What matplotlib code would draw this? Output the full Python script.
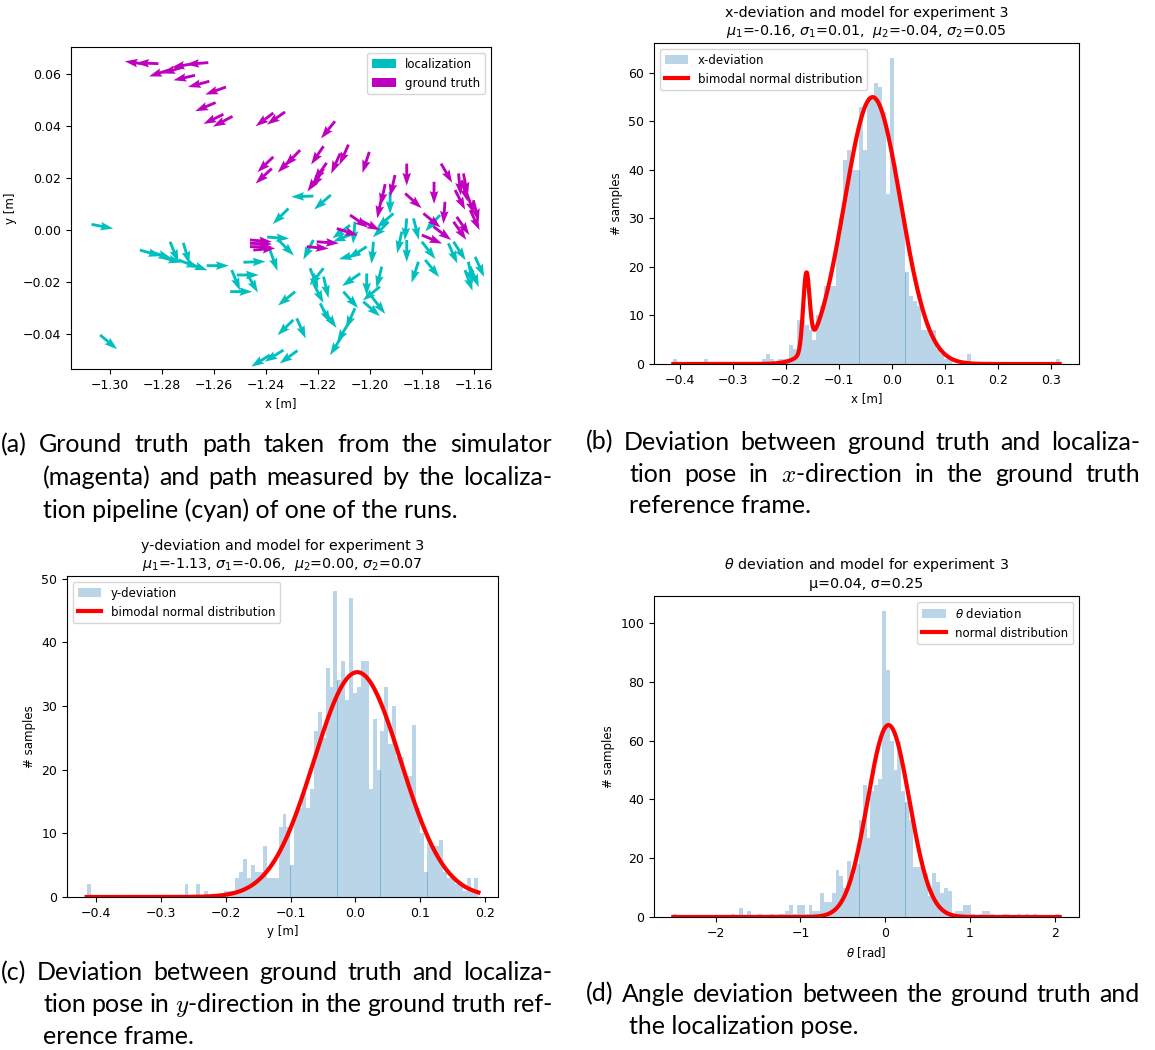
import numpy as np
import matplotlib
matplotlib.use("Agg")
import matplotlib.pyplot as plt

# ---- path arrows: tail position [m] and heading [deg] ----
gt_x = [-1.2814, -1.2859, -1.2622, -1.2679, -1.2718, -1.2769, -1.2673, -1.2618, -1.2554, -1.2594,
        -1.2564, -1.2529, -1.2372, -1.2327, -1.2135, -1.2372, -1.2378, -1.2269, -1.2295, -1.2179,
        -1.2167, -1.2192, -1.2179, -1.2083, -1.2115, -1.2003, -1.1942, -1.1955, -1.1904, -1.1859,
        -1.1754, -1.1727, -1.1660, -1.1641, -1.1673, -1.1603, -1.1865, -1.1712, -1.1795, -1.1667,
        -1.1615, -1.2077, -1.2038, -1.2128, -1.1801, -1.1756, -1.2462, -1.2462, -1.2449, -1.2462,
        -1.2244, -1.2205, -1.1647, -1.1628, -1.1679]
gt_y = [0.0641, 0.0638, 0.0645, 0.0641, 0.0628, 0.0618, 0.0596, 0.0573, 0.0551, 0.0491,
        0.0446, 0.0438, 0.0451, 0.0455, 0.0419, 0.0282, 0.0237, 0.0308, 0.0282, 0.0323,
        0.0259, 0.0218, 0.0237, 0.0329, 0.0295, 0.0301, 0.0177, 0.0128, 0.0212, 0.0256,
        0.0186, 0.0256, 0.0218, 0.0218, 0.0154, 0.0115, 0.0141, 0.0109, 0.0064, 0.0051,
        0.0077, 0.0058, 0.0038, 0.0006, -0.0019, 0.0013, -0.0038, -0.0064, -0.0077, -0.0051,
        -0.0064, -0.0045, 0.0192, 0.0141, 0.0032]
gt_heading = [178, 172, 185, 190, 197, 198, 193, 195, 200, 203,
              206, 208, 217, 215, 231, 224, 223, 226, 225, 236,
              235, 235, 240, 246, 246, 252, 258, 258, 257, 270,
              270, 300, 276, 281, 297, 284, 318, 266, 321, 305,
              295, 325, 333, 342, 337, 323, 355, 0, 5, 358,
              355, 356, 285, 290, 305]

loc_x = [-1.3071, -1.3038, -1.2885, -1.2846, -1.2808, -1.2769, -1.2718, -1.2737, -1.2705, -1.2628,
         -1.2487, -1.2532, -1.2538, -1.2474, -1.2513, -1.2218, -1.2151, -1.2314, -1.2396, -1.2353,
         -1.2218, -1.2077, -1.2064, -1.1923, -1.1910, -1.1929, -1.1859, -1.1833, -1.1878, -1.1859,
         -1.1731, -1.2013, -1.2038, -1.1987, -1.2231, -1.2179, -1.2218, -1.2179, -1.2288, -1.2038,
         -1.2013, -1.1955, -1.1962, -1.2103, -1.2026, -1.1994, -1.2192, -1.2179, -1.2058, -1.2083,
         -1.2109, -1.2295, -1.2282, -1.2385, -1.2333, -1.2279, -1.1801, -1.1788, -1.1814, -1.1699,
         -1.1679, -1.1622, -1.1635, -1.1596, -1.1615, -1.2058, -1.2385]
loc_y = [0.0022, -0.0404, -0.0077, -0.0083, -0.0103, -0.0045, -0.0049, -0.0115, -0.0126, -0.0137,
         -0.0124, -0.0154, -0.0237, -0.0167, -0.0173, 0.0131, 0.0135, 0.0083, -0.0027, -0.0038,
         -0.0038, 0.0019, -0.0013, 0.0147, 0.0064, 0.0032, 0.0045, 0.0045, -0.0006, -0.0038,
         0.0058, -0.0064, -0.0090, -0.0045, -0.0147, -0.0147, -0.0205, -0.0179, -0.0237, -0.0167,
         -0.0167, -0.0141, -0.0218, -0.0237, -0.0276, -0.0256, -0.0282, -0.0308, -0.0301, -0.0359,
         -0.0410, -0.0346, -0.0340, -0.0481, -0.0462, -0.0464, -0.0045, -0.0115, -0.0122, -0.0051,
         -0.0045, -0.0122, -0.0154, -0.0103, -0.0141, 0.0032, -0.0077]
loc_heading = [349, 320, 344, 343, 345, 292, 286, 339, 340, 0,
               2, 292, 0, 300, 0, 182, 221, 225, 356, 315,
               243, 217, 202, 270, 221, 225, 265, 284, 258, 270,
               228, 212, 195, 265, 292, 231, 297, 283, 219, 215,
               270, 256, 219, 312, 319, 308, 297, 306, 246, 239,
               238, 224, 294, 212, 212, 216, 308, 309, 252, 294,
               303, 281, 290, 294, 293, 265, 290]

# ---- deviation histograms (100 bins each) ----
x_range = (-0.412, 0.317)
x_counts = [1, 0, 0, 0, 0, 0, 0, 0, 1, 0,
            0, 0, 0, 0, 0, 0, 0, 0, 0, 0,
            0, 0, 0, 1, 2, 1, 0, 1, 1, 1,
            4, 3, 9, 9, 8, 7, 5, 10, 12, 16,
            16, 16, 25, 30, 42, 44, 40, 40, 53, 44,
            55, 55, 58, 57, 52, 35, 63, 41, 36, 31,
            19, 14, 13, 12, 7, 7, 7, 7, 3, 2,
            1, 1, 0, 0, 0, 0, 2, 0, 0, 0,
            0, 0, 0, 0, 0, 0, 0, 0, 0, 0,
            0, 0, 0, 0, 0, 0, 0, 0, 0, 1]
x_fit = dict(a1=15.5, mu1=-0.161, s1=0.006, a2=55.0, mu2=-0.036, s2=0.053)
x_edge_bins = [48, 60]

y_range = (-0.415, 0.19)
y_counts = [2, 0, 0, 0, 0, 0, 0, 0, 0, 0,
            0, 0, 0, 0, 0, 0, 0, 0, 0, 0,
            0, 0, 0, 0, 0, 2, 0, 0, 2, 0,
            1, 0, 0, 0, 0, 1, 1, 1, 3, 4,
            6, 3, 5, 4, 4, 8, 3, 3, 3, 11,
            13, 11, 5, 13, 14, 17, 14, 17, 26, 29,
            25, 36, 33, 48, 34, 37, 31, 47, 32, 33,
            37, 37, 17, 28, 20, 26, 33, 24, 30, 22,
            22, 19, 19, 27, 14, 10, 4, 9, 8, 8,
            9, 4, 3, 3, 2, 2, 1, 3, 1, 3]
y_fit = dict(a1=10.0, mu1=-1.13, s1=-0.06, a2=35.3, mu2=0.003, s2=0.067)
y_edge_bins = [52, 64, 75, 87]

theta_range = (-2.50, 2.06)
theta_counts = [1, 0, 0, 0, 0, 0, 0, 0, 0, 0,
                0, 0, 0, 0, 0, 1, 0, 3, 0, 2,
                0, 0, 1, 0, 0, 1, 0, 1, 1, 2,
                4, 1, 4, 4, 1, 4, 2, 2, 8, 5,
                5, 8, 16, 14, 10, 19, 14, 18, 33, 45,
                27, 43, 45, 47, 104, 84, 60, 50, 60, 43,
                39, 33, 17, 17, 19, 15, 7, 15, 12, 8,
                10, 9, 1, 2, 2, 4, 4, 1, 0, 1,
                2, 2, 1, 0, 0, 1, 1, 0, 0, 1,
                0, 1, 0, 1, 0, 0, 0, 0, 0, 1]
theta_fit = dict(a=65.3, mu=0.04, s=0.247)
theta_edge_bins = [48, 60]

W, H = 1155, 1050
ARROW_LEN = 0.0085
TICK_FS, LABEL_FS, TITLE_FS, LEGEND_FS = 9, 8.5, 10.3, 8.5

plt.rcParams["font.size"] = TICK_FS
fig = plt.figure(figsize=(W / 100, H / 100), dpi=100)


def px_axes(left, top, right, bottom):
    return fig.add_axes([left / W, 1 - bottom / H, (right - left) / W, (bottom - top) / H])


def gauss(x, a, mu, s):
    return a * np.exp(-(x - mu) ** 2 / (2 * s ** 2))


def deviation_hist(ax, counts, rng, edge_bins):
    edges = np.linspace(rng[0], rng[1], len(counts) + 1)
    centers = 0.5 * (edges[:-1] + edges[1:])
    _, _, bars = ax.hist(centers, bins=edges, weights=counts, color="C0", alpha=0.3)
    # faint bar seams
    for b in edge_bins:
        ax.vlines(edges[b], 0, min(counts[b - 1], counts[b]), color="C0", alpha=0.35, lw=0.8)
    return bars[0]


def style(ax, xlabel, ylabel):
    ax.set_xlabel(xlabel, fontsize=LABEL_FS)
    ax.set_ylabel(ylabel, fontsize=LABEL_FS)
    ax.tick_params(labelsize=TICK_FS)


# (a) paths
ax = px_axes(71, 47, 491, 369)
for xs, ys, hd, col, lab in [(loc_x, loc_y, loc_heading, "c", "localization"),
                             (gt_x, gt_y, gt_heading, "m", "ground truth")]:
    h = np.radians(hd)
    ax.quiver(xs, ys, np.cos(h), np.sin(h), color=col, label=lab, width=0.0068,
              headwidth=3, headlength=4.5, headaxislength=4,
              angles="xy", scale_units="xy", scale=1 / ARROW_LEN)
ax.set_xlim(-1.315, -1.1535)
ax.set_ylim(-0.0535, 0.0705)
ax.set_xticks(np.arange(-1.30, -1.159, 0.02))
style(ax, "x [m]", "y [m]")
ax.legend(loc="upper right", fontsize=LEGEND_FS)

# (b) x deviation
ax = px_axes(654, 43, 1079, 364)
bar = deviation_hist(ax, x_counts, x_range, x_edge_bins)
xs = np.linspace(*x_range, 600)
line, = ax.plot(xs, gauss(xs, x_fit["a1"], x_fit["mu1"], x_fit["s1"])
                + gauss(xs, x_fit["a2"], x_fit["mu2"], x_fit["s2"]), color="red", lw=3)
ax.set_title("x-deviation and model for experiment 3\n"
             f"$\\mu_1$={x_fit['mu1']:.2f}, $\\sigma_1$={x_fit['s1']:.2f},  "
             f"$\\mu_2$={x_fit['mu2']:.2f}, $\\sigma_2$={x_fit['s2']:.2f}", fontsize=TITLE_FS)
style(ax, "x [m]", "# samples")
ax.legend([bar, line], ["x-deviation", "bimodal normal distribution"], loc="upper left",
          fontsize=LEGEND_FS)

# (c) y deviation
ax = px_axes(67, 576, 498, 897)
bar = deviation_hist(ax, y_counts, y_range, y_edge_bins)
xs = np.linspace(*y_range, 600)
line, = ax.plot(xs, gauss(xs, y_fit["a1"], y_fit["mu1"], y_fit["s1"])
                + gauss(xs, y_fit["a2"], y_fit["mu2"], y_fit["s2"]), color="red", lw=3)
ax.set_title("y-deviation and model for experiment 3\n"
             f"$\\mu_1$={y_fit['mu1']:.2f}, $\\sigma_1$={y_fit['s1']:.2f},  "
             f"$\\mu_2$={y_fit['mu2']:.2f}, $\\sigma_2$={y_fit['s2']:.2f}", fontsize=TITLE_FS)
style(ax, "y [m]", "# samples")
ax.legend([bar, line], ["y-deviation", "bimodal normal distribution"], loc="upper left",
          fontsize=LEGEND_FS)

# (d) heading deviation
ax = px_axes(654, 596, 1079, 917)
bar = deviation_hist(ax, theta_counts, theta_range, theta_edge_bins)
xs = np.linspace(*theta_range, 600)
line, = ax.plot(xs, gauss(xs, theta_fit["a"], theta_fit["mu"], theta_fit["s"]), color="red", lw=3)
ax.set_title(r"$\theta$ deviation and model for experiment 3" + "\n"
             f"\u03bc={theta_fit['mu']:.2f}, \u03c3={theta_fit['s']:.2f}", fontsize=TITLE_FS)
style(ax, r"$\theta$ [rad]", "# samples")
ax.legend([bar, line], [r"$\theta$ deviation", "normal distribution"], loc="upper right",
          fontsize=LEGEND_FS)

# ---- sub-captions, justified with a hanging indent ----
renderer = fig.canvas.get_renderer()
CAP_FONT = dict(family="Lato", fontsize=18, math_fontfamily="cm", va="center", ha="left")


def caption(lines, left, indent, right, y0, dy):
    for k, line in enumerate(lines):
        x_start = left if k == 0 else indent
        y = 1 - (y0 + k * dy) / H
        if k == len(lines) - 1:
            fig.text(x_start / W, y, line, **CAP_FONT)
            continue
        words = [fig.text(0, y, w, **CAP_FONT) for w in line.split(" ")]
        widths = [t.get_window_extent(renderer).width for t in words]
        gap = (right - x_start - sum(widths)) / (len(words) - 1)
        pos = x_start
        for t, w in zip(words, widths):
            t.set_x(pos / W)
            pos += w + gap


caption(["(a) Ground truth path taken from the simulator",
         "(magenta) and path measured by the localiza-",
         "tion pipeline (cyan) of one of the runs."], 1, 43, 552, 445, 32.5)
caption(["(b) Deviation between ground truth and localiza-",
         "tion pose in $x$-direction in the ground truth",
         "reference frame."], 586, 629, 1140, 442, 32)
caption(["(c) Deviation between ground truth and localiza-",
         "tion pose in $y$-direction in the ground truth ref-",
         "erence frame."], 1, 43, 552, 973, 32)
caption(["(d) Angle deviation between the ground truth and",
         "the localization pose."], 586, 629, 1140, 994, 32)

fig.savefig("out.png", dpi=100)
